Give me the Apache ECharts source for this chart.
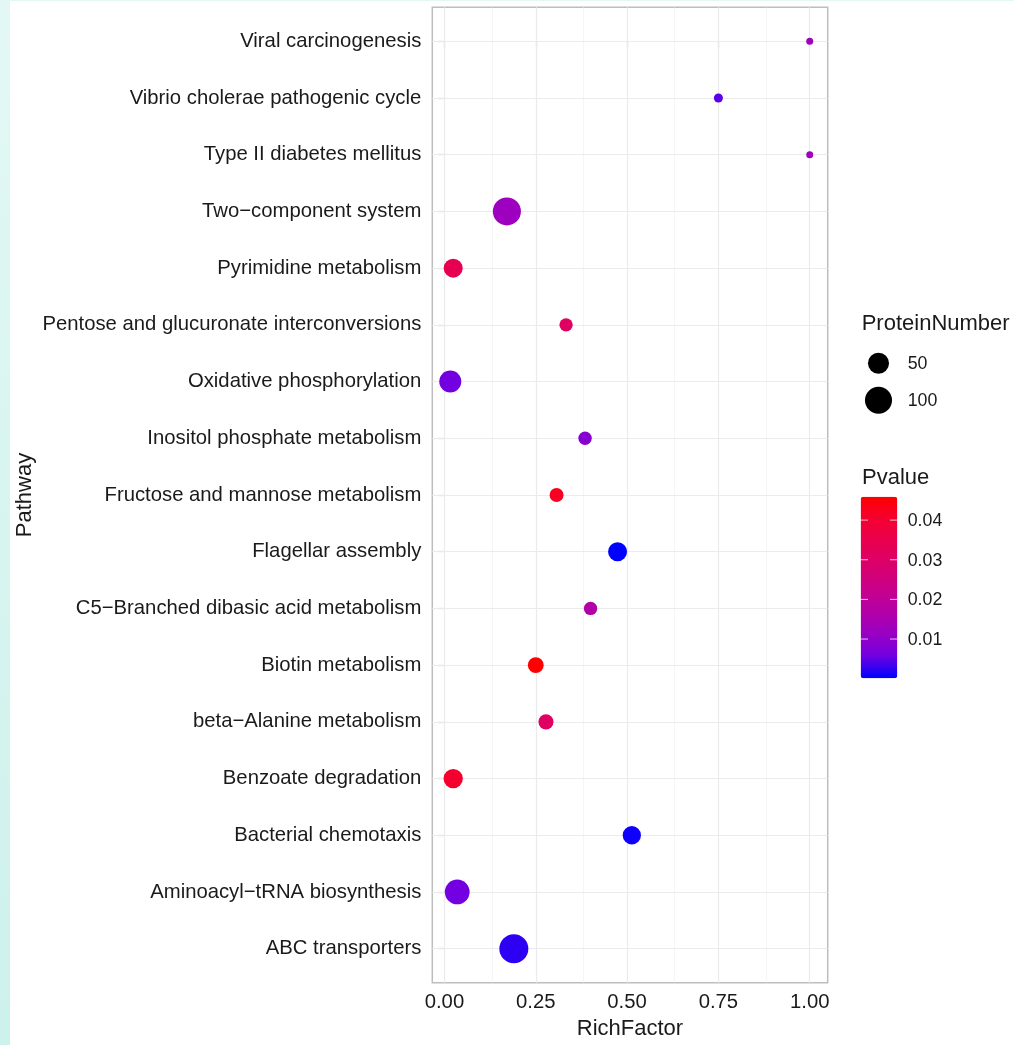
<!DOCTYPE html>
<html>
<head>
<meta charset="utf-8">
<script src="https://cdn.jsdelivr.net/npm/echarts@6/dist/echarts.min.js"></script>
<style>
  html, body { margin: 0; padding: 0; background: #ffffff; }
  #wrap { position: relative; width: 1014px; height: 1045px; overflow: hidden; }
  #leftStrip { position: absolute; left: 0; top: 0; width: 10px; height: 1045px;
    background: linear-gradient(to bottom, #e3f8f4, #cdf1eb); }
  #topStrip { position: absolute; left: 0; top: 0; width: 1014px; height: 1px; background: #e3f7f4; }
  #chart { position: absolute; left: 0; top: 0; width: 1014px; height: 1045px; }
</style>
</head>
<body>
<div id="wrap">
  <div id="leftStrip"></div>
  <div id="topStrip"></div>
  <div id="chart"></div>
</div>
<script>
// ---- data (top to bottom, as drawn) ----
const categories = [
  "Viral carcinogenesis",
  "Vibrio cholerae pathogenic cycle",
  "Type II diabetes mellitus",
  "Two\u2212component system",
  "Pyrimidine metabolism",
  "Pentose and glucuronate interconversions",
  "Oxidative phosphorylation",
  "Inositol phosphate metabolism",
  "Fructose and mannose metabolism",
  "Flagellar assembly",
  "C5\u2212Branched dibasic acid metabolism",
  "Biotin metabolism",
  "beta\u2212Alanine metabolism",
  "Benzoate degradation",
  "Bacterial chemotaxis",
  "Aminoacyl\u2212tRNA biosynthesis",
  "ABC transporters"
];
const richFactor = [1.00, 0.75, 1.00, 0.171, 0.024, 0.333, 0.016, 0.385, 0.307, 0.474, 0.400, 0.250, 0.278, 0.024, 0.513, 0.035, 0.190];
const proteinNumber = [2, 3, 2, 110, 37, 12, 57, 12, 14, 37, 12, 21, 18, 39, 33, 79, 120];
const pValue = [0.0127, 0.0047, 0.0130, 0.0122, 0.0340, 0.0312, 0.0058, 0.0088, 0.0420, 0.0001, 0.0166, 0.0459, 0.0312, 0.0405, 0.0008, 0.0058, 0.0024];

const xTicks = [0, 0.25, 0.5, 0.75, 1.0];
const xMinorTicks = [0.125, 0.375, 0.625, 0.875];
const sizeLegendValues = [50, 100];
const pTicks = [0.01, 0.02, 0.03, 0.04];
// ggplot-like Lab gradient blue -> red
const gradientColors = ['#0000FF', '#7300E1', '#9A00C2', '#B500A5', '#CA0089', '#DA006C', '#E8004F', '#F40031', '#FF0000'];

// ---- derived ----
const nMin = Math.min(...proteinNumber), nMax = Math.max(...proteinNumber);
const pMin = Math.min(...pValue), pMax = Math.max(...pValue);
const xMinData = Math.min(...richFactor), xMaxData = Math.max(...richFactor);
const xPad = (xMaxData - xMinData) * 0.05;
function sizeFn(n) { return 7 + 22 * Math.sqrt(Math.max(0, (n - nMin) / (nMax - nMin))); }

const FONT = "'Liberation Sans', Arial, Helvetica, sans-serif";
const TXT = '#1a1a1a';

// layout
const G = { left: 432.3, top: 7.3, right: 1014 - 827.7, bottom: 1045 - 982.7 };
const CB = { left: 860.7, top: 496.7, width: 36.6, height: 181.6 };

const points = categories.map((c, i) => [richFactor[i], i, proteinNumber[i], pValue[i], c]);

const gridMajor = { color: '#ebebeb', width: 1.2, type: 'solid' };
const gridMinor = { color: '#f1f1f1', width: 0.7, type: 'solid' };
const lineData = []
  .concat(xMinorTicks.map(v => ({ xAxis: v, lineStyle: gridMinor })))
  .concat(xTicks.map(v => ({ xAxis: v, lineStyle: gridMajor })))
  .concat(categories.map((c, i) => ({ yAxis: i, lineStyle: gridMajor })));

// legend graphics
const graphics = [];
graphics.push({ type: 'text', x: 861.7, y: 324, style: { text: 'ProteinNumber', font: '22px ' + FONT, fill: TXT, verticalAlign: 'middle' } });
const sizeLegendY = [363.3, 400.2];
sizeLegendValues.forEach((v, k) => {
  graphics.push({ type: 'circle', shape: { cx: 878.5, cy: sizeLegendY[k], r: sizeFn(v) / 2 }, style: { fill: '#000' } });
  graphics.push({ type: 'text', x: 907.7, y: sizeLegendY[k] + 1, style: { text: String(v), font: '17.8px ' + FONT, fill: TXT, verticalAlign: 'middle', align: 'left' } });
});
graphics.push({ type: 'text', x: 862, y: 477.5, style: { text: 'Pvalue', font: '22px ' + FONT, fill: TXT, verticalAlign: 'middle' } });
pTicks.forEach(v => {
  const y = CB.top + (pMax - v) / (pMax - pMin) * CB.height;
  graphics.push({ type: 'line', z: 100, shape: { x1: CB.left, y1: y, x2: CB.left + 7.3, y2: y }, style: { stroke: 'rgba(255,255,255,0.75)', lineWidth: 1 } });
  graphics.push({ type: 'line', z: 100, shape: { x1: CB.left + CB.width - 7.3, y1: y, x2: CB.left + CB.width, y2: y }, style: { stroke: 'rgba(255,255,255,0.75)', lineWidth: 1 } });
  graphics.push({ type: 'text', x: 907.7, y: y + 1, style: { text: v.toFixed(2), font: '17.8px ' + FONT, fill: TXT, verticalAlign: 'middle', align: 'left' } });
});

const chart = echarts.init(document.getElementById('chart'), null, { renderer: 'canvas' });
chart.setOption({
  animation: false,
  backgroundColor: 'transparent',
  textStyle: { fontFamily: FONT },
  grid: { left: G.left, top: G.top, right: G.right, bottom: G.bottom, show: true, borderColor: '#bdbdbd', borderWidth: 1.5, backgroundColor: 'transparent', containLabel: false },
  xAxis: {
    type: 'value',
    min: xMinData - xPad,
    max: xMaxData + xPad,
    name: 'RichFactor',
    nameLocation: 'middle',
    nameGap: 34,
    nameTextStyle: { fontSize: 22, color: TXT, fontFamily: FONT, verticalAlign: 'top' },
    axisLine: { show: false },
    axisTick: { show: true, length: 6, lineStyle: { color: '#a8a8a8', width: 1.2 }, customValues: xTicks },
    axisLabel: { show: true, fontSize: 20.3, color: TXT, fontFamily: FONT, margin: 10, customValues: xTicks, formatter: v => Number(v).toFixed(2) },
    splitLine: { show: false },
    minorSplitLine: { show: false }
  },
  yAxis: {
    type: 'value',
    min: -0.6,
    max: categories.length - 1 + 0.6,
    inverse: true,
    name: 'Pathway',
    nameLocation: 'middle',
    nameGap: 396,
    nameRotate: 90,
    nameTextStyle: { fontSize: 22, color: TXT, fontFamily: FONT },
    axisLine: { show: false },
    axisTick: { show: true, length: 6, lineStyle: { color: '#a8a8a8', width: 1.2 }, customValues: categories.map((c, i) => i) },
    axisLabel: { show: true, fontSize: 20.3, color: TXT, fontFamily: FONT, margin: 11, customValues: categories.map((c, i) => i), formatter: v => categories[Math.round(v)] || '' },
    splitLine: { show: false }
  },
  visualMap: {
    type: 'continuous',
    seriesIndex: 1,
    dimension: 3,
    min: pMin,
    max: pMax,
    calculable: false,
    hoverLink: false,
    realtime: false,
    left: CB.left,
    top: CB.top,
    padding: 0,
    itemWidth: CB.width,
    itemHeight: CB.height,
    text: null,
    showLabel: false,
    inRange: { color: gradientColors }
  },
  series: [
    {
      type: 'scatter',
      z: 1,
      silent: true,
      data: [],
      markLine: { z: 1, silent: true, animation: false, symbol: ['none', 'none'], label: { show: false }, emphasis: { disabled: true }, data: lineData }
    },
    {
      type: 'scatter',
      z: 10,
      data: points,
      symbol: 'circle',
      symbolSize: v => sizeFn(v[2]),
      itemStyle: { opacity: 1 },
      emphasis: { disabled: true }
    }
  ],
  graphic: graphics
});
</script>
</body>
</html>
